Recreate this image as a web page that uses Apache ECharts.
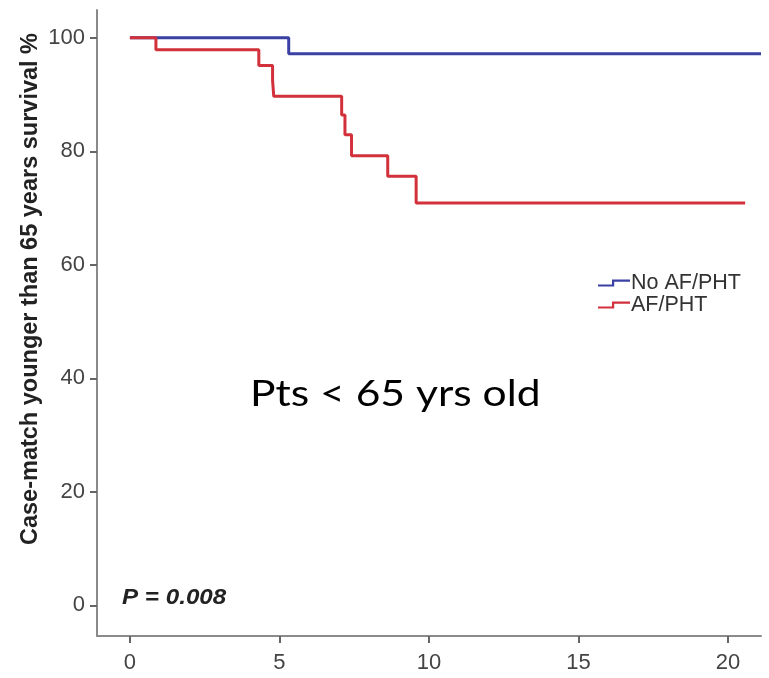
<!DOCTYPE html>
<html>
<head>
<meta charset="utf-8">
<script src="https://cdn.jsdelivr.net/npm/echarts@6/dist/echarts.min.js"></script>
<style>
  html, body { margin: 0; padding: 0; background: #fff; }
  #chart { width: 769px; height: 678px; }
</style>
</head>
<body>
<div id="chart"></div>
<script>
// Kaplan-Meier survival curves: [years, survival % after the step]
const seriesNames = ['No AF/PHT', 'AF/PHT'];
const noAfPht = [[0, 100], [5.31, 97.2], [21.1, 97.2]];
const afPht = [
  [0, 100], [0.87, 97.9], [4.31, 95.1], [4.77, 92.5], [4.81, 89.7],
  [7.08, 86.4], [7.19, 82.9], [7.41, 79.2], [8.62, 75.6], [9.57, 70.9],
  [20.57, 70.9]
];
const xTicks = [0, 5, 10, 15, 20];
const yTicks = [0, 20, 40, 60, 80, 100];
const yTitle = 'Case-match younger than 65 years survival %';
const panelText = 'Pts < 65 yrs old';
const pText = 'P = 0.008';

const colors = ['#3b40a3', '#d2303a'];
const sans = '"Liberation Sans", Arial, sans-serif';
const stepIcon = 'path://M0,5 L14,5 L14,0 L32,0 L32,2.2 L16.2,2.2 L16.2,7 L0,7 Z';

const chart = echarts.init(document.getElementById('chart'));
chart.setOption({
  animation: false,
  backgroundColor: '#ffffff',
  grid: { left: 97, right: 8, top: 10, bottom: 42, containLabel: false },
  graphic: [
    {
      type: 'text', left: 250, top: 376, scaleX: 1.15, z: 10,
      style: {
        text: panelText, fill: '#000',
        font: 'normal 37px Lato, "Open Sans", sans-serif'
      }
    },
    {
      type: 'text', left: 122, top: 587, scaleX: 1.1, z: 10,
      style: {
        text: pText, fill: '#222',
        font: 'italic bold 22px "Liberation Sans", Arial, sans-serif'
      }
    }
  ],
  legend: {
    orient: 'vertical', left: 593, top: 267, itemGap: 0,
    itemWidth: 32, itemHeight: 7,
    data: seriesNames.map(n => ({ name: n, icon: stepIcon })),
    textStyle: { fontFamily: sans, fontSize: 21.5, color: '#333', lineHeight: 19, padding: [0, 0, 0, -4] }
  },
  xAxis: {
    type: 'value', min: -1.1, max: 21.1,
    axisLine: { show: true, onZero: false, lineStyle: { color: '#8a8a8a', width: 2 } },
    axisTick: { show: true, customValues: xTicks, length: 7, lineStyle: { color: '#666', width: 2 } },
    axisLabel: { customValues: xTicks, margin: 16, fontFamily: sans, fontSize: 22, color: '#444' },
    splitLine: { show: false }
  },
  yAxis: {
    type: 'value', min: -5.4, max: 104.9,
    name: yTitle, nameLocation: 'middle', nameRotate: 90, nameGap: 54,
    nameMoveOverlap: false,
    nameTextStyle: {
      fontFamily: sans, fontSize: 23.5, fontWeight: 'bold', color: '#222',
      padding: [0, 0, 0, 68]
    },
    axisLine: { show: true, onZero: false, lineStyle: { color: '#8a8a8a', width: 2 } },
    axisTick: { show: true, customValues: yTicks, length: 7, lineStyle: { color: '#666', width: 2 } },
    axisLabel: { customValues: yTicks, margin: 12, fontFamily: sans, fontSize: 22, color: '#444' },
    splitLine: { show: false }
  },
  series: [
    {
      name: seriesNames[0], type: 'line', step: 'end', data: noAfPht,
      showSymbol: false, symbol: 'none', z: 2,
      lineStyle: { color: colors[0], width: 3 }, itemStyle: { color: colors[0] }
    },
    {
      name: seriesNames[1], type: 'line', step: 'end', data: afPht,
      showSymbol: false, symbol: 'none', z: 3,
      lineStyle: { color: colors[1], width: 3 }, itemStyle: { color: colors[1] }
    }
  ]
});
</script>
</body>
</html>
